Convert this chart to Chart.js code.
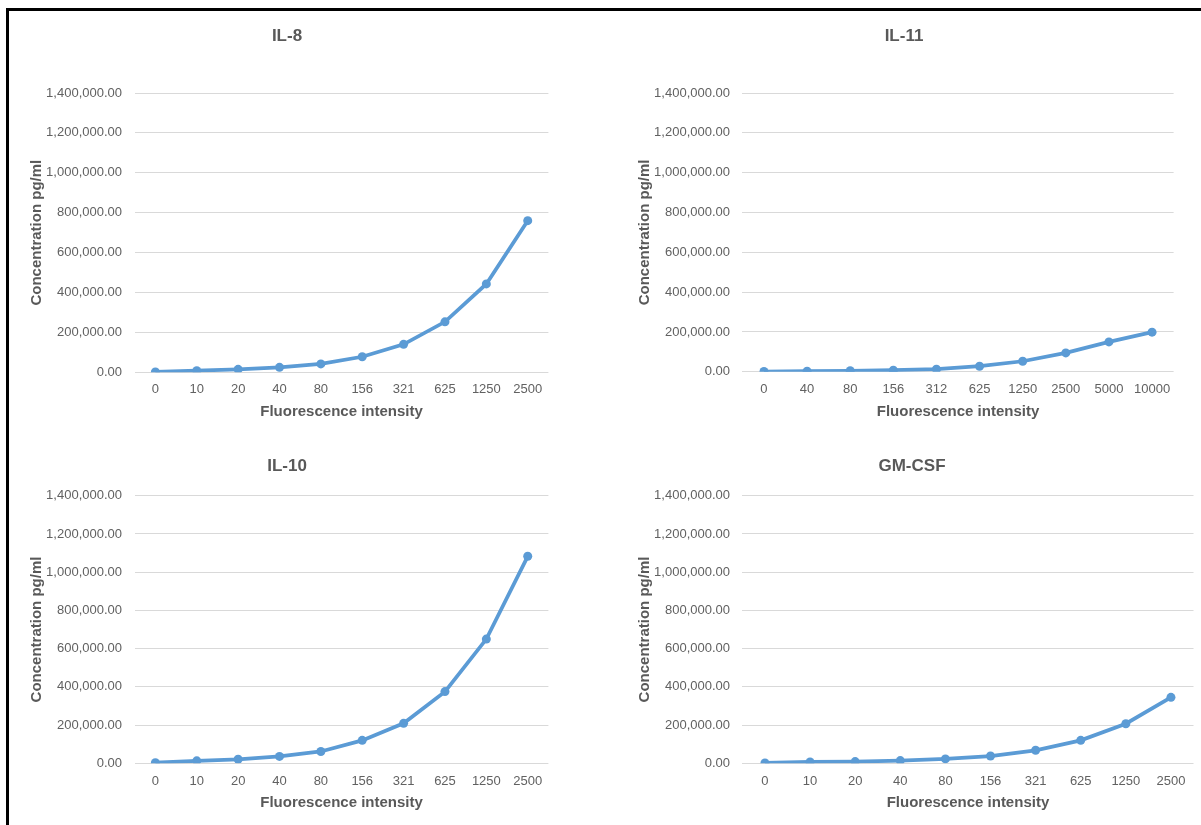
<!DOCTYPE html>
<html>
<head>
<meta charset="utf-8">
<script src="https://cdn.jsdelivr.net/npm/chart.js@4.4.1/dist/chart.umd.min.js"></script>
<style>
  html, body { margin: 0; padding: 0; background: #ffffff; width: 1201px; height: 825px; overflow: hidden; }
  #frame { position: absolute; left: 6px; top: 8px; width: 1400px; height: 1000px; border-top: 3px solid #000; border-left: 3px solid #000; }
  canvas { position: absolute; }
</style>
</head>
<body>
<div id="frame"></div>
<canvas id="c1"></canvas>
<canvas id="c2"></canvas>
<canvas id="c3"></canvas>
<canvas id="c4"></canvas>
<script>
// ---- data ----
const il8Labels   = ['0', '10', '20', '40', '80', '156', '321', '625', '1250', '2500'];
const il8Values   = [2000, 8000, 15000, 25000, 42000, 78000, 140000, 253000, 443000, 760000];

const il11Labels  = ['0', '40', '80', '156', '312', '625', '1250', '2500', '5000', '10000'];
const il11Values  = [1500, 3000, 5000, 8000, 13000, 28000, 53000, 95000, 150000, 199000];

const il10Labels  = ['0', '10', '20', '40', '80', '156', '321', '625', '1250', '2500'];
const il10Values  = [3000, 13000, 21000, 36000, 62000, 120000, 209000, 375000, 650000, 1083000];

const gmcsfLabels = ['0', '10', '20', '40', '80', '156', '321', '625', '1250', '2500'];
const gmcsfValues = [2000, 7000, 9000, 14000, 23000, 38000, 68000, 120000, 207000, 345000];

const yTickLabels = ['0.00', '200,000.00', '400,000.00', '600,000.00', '800,000.00',
                     '1,000,000.00', '1,200,000.00', '1,400,000.00'];
const yMax = 1400000;
const yStep = 200000;

const xAxisTitle = 'Fluorescence intensity';
const yAxisTitle = 'Concentration pg/ml';

// ---- styling / layout ----
const FONT = "'Liberation Sans', Arial, sans-serif";
const GRAY = '#595959';
const TICKGRAY = '#616161';
const BLUE = '#5B9BD5';
const TITLE_LH = 17 * 1.2;
const AXT_LH = 15 * 1.2;
const TICK_LH = 13 * 1.2;

function makeChart(id, title, labels, values, box, area, titleY, yTitleX, tickY, xTitleY) {
  const cv = document.getElementById(id);
  cv.width = box.w; cv.height = box.h;
  cv.style.left = box.x + 'px'; cv.style.top = box.y + 'px';
  cv.style.width = box.w + 'px'; cv.style.height = box.h + 'px';
  const R = box.x + box.w - area.right;          // symmetric side padding
  const yW = area.left - box.x - R;               // y axis box width
  const xH = box.y + box.h - area.bottom;         // x axis box height
  const tPadTop = titleY - box.y - TITLE_LH / 2;
  const tPadBot = (area.top - box.y) - tPadTop - TITLE_LH;
  const yTitlePad = yTitleX - (box.x + R) - AXT_LH / 2;
  const xTitlePadBot = (box.y + box.h) - xTitleY - AXT_LH / 2;
  const xTickPad = tickY - area.bottom - TICK_LH / 2;

  new Chart(cv, {
    type: 'line',
    data: {
      labels: labels,
      datasets: [{
        data: values,
        borderColor: BLUE,
        backgroundColor: BLUE,
        borderWidth: 3.75,
        pointRadius: 4.5,
        pointBorderWidth: 0,
        pointBackgroundColor: BLUE,
        tension: 0,
        fill: false
      }]
    },
    options: {
      responsive: false,
      animation: false,
      devicePixelRatio: 1,
      layout: { padding: { left: R, right: R, top: 0, bottom: 0 } },
      plugins: {
        legend: { display: false },
        tooltip: { enabled: false },
        title: {
          display: true,
          text: title,
          color: GRAY,
          font: { family: FONT, size: 17, weight: 'bold' },
          padding: { top: tPadTop, bottom: tPadBot }
        }
      },
      scales: {
        x: {
          type: 'category',
          offset: true,
          grid: { display: false, drawTicks: false },
          border: { display: false },
          ticks: { color: TICKGRAY, font: { family: FONT, size: 13 }, padding: xTickPad, maxRotation: 0, autoSkip: false },
          title: {
            display: true, text: xAxisTitle, color: GRAY,
            font: { family: FONT, size: 15, weight: 'bold' },
            padding: { top: 0, bottom: xTitlePadBot }
          },
          afterFit: (s) => { s.height = xH; }
        },
        y: {
          min: 0, max: yMax,
          grid: { color: '#D9D9D9', lineWidth: 1, drawTicks: false },
          border: { display: false },
          ticks: {
            stepSize: yStep, color: TICKGRAY, font: { family: FONT, size: 13 }, padding: area.left - area.labelRight,
            callback: (v) => yTickLabels[Math.round(v / yStep)]
          },
          title: {
            display: true, text: yAxisTitle, color: GRAY,
            font: { family: FONT, size: 15, weight: 'bold' },
            padding: { top: yTitlePad, bottom: 0 }
          },
          afterFit: (s) => { s.width = yW; }
        }
      }
    }
  });
}

makeChart('c1', 'IL-8', il8Labels, il8Values,
  { x: 10, y: 12, w: 554, h: 413 },
  { left: 134.7, right: 548.4, top: 93, bottom: 372.3, labelRight: 122 },
  36.7, 37, 389.5, 411.7);

makeChart('c2', 'IL-11', il11Labels, il11Values,
  { x: 620, y: 12, w: 568, h: 413 },
  { left: 742.4, right: 1173.6, top: 93, bottom: 371.8, labelRight: 730 },
  36.7, 645, 389, 411.7);

makeChart('c3', 'IL-10', il10Labels, il10Values,
  { x: 10, y: 425, w: 554, h: 400 },
  { left: 134.7, right: 548.4, top: 495.7, bottom: 763.3, labelRight: 122 },
  466, 37, 781, 803.3);

makeChart('c4', 'GM-CSF', gmcsfLabels, gmcsfValues,
  { x: 623, y: 425, w: 578, h: 400 },
  { left: 742.4, right: 1193.5, top: 495.7, bottom: 763.3, labelRight: 730 },
  466, 645, 781, 803.3);
</script>
</body>
</html>
